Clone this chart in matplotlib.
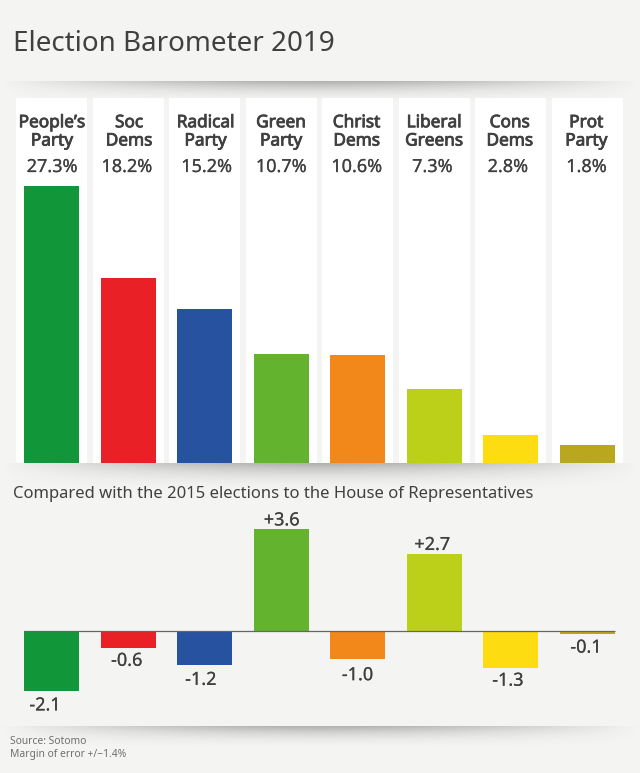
import numpy as np
import matplotlib
matplotlib.use("Agg")
import matplotlib.pyplot as plt
import matplotlib.patheffects as pe

parties = ["People’s\nParty", "Soc\nDems", "Radical\nParty", "Green\nParty",
           "Christ\nDems", "Liberal\nGreens", "Cons\nDems", "Prot\nParty"]
share = [27.3, 18.2, 15.2, 10.7, 10.6, 7.3, 2.8, 1.8]
change = [-2.1, -0.6, -1.2, 3.6, -1.0, 2.7, -1.3, -0.1]
colors = ["#12963a", "#e92026", "#27529f", "#63b32e", "#f2871a", "#bcd01a", "#fddc12", "#b9a81e"]

W, H = 640, 773
BG = "#f4f4f2"
INK = "#404040"
FONT = "Noto Sans"
plt.rcParams["font.family"] = FONT

# small label nudges in pixels
name_dx = [0.5, 1, 1, 0, -1, 0, -1, -1]
pct_dx = [0.5, -1.3, 2, 0, -1, -2, -3, -1]
chg_dx = [-6.5, -1.3, -3.8, 0.5, -0.2, -2, -3, -1.4]
chg_dy = [0, 2, 0, -1, -1, 0, 2, 1]

fig = plt.figure(figsize=(W / 100, H / 100), dpi=100, facecolor=BG)

# pixel-space backdrop
bg = fig.add_axes([0, 0, 1, 1])
bg.set_xlim(0, W)
bg.set_ylim(H, 0)
bg.axis("off")


def shadow(y0, height):
    xs = np.linspace(-1, 1, 320)
    ys = np.linspace(0, 1, 60)
    profile = np.clip(1 - np.abs(xs) ** 1.6, 0, 1)
    fall = (1 - ys) ** 2.2
    rgba = np.zeros((60, 320, 4))
    rgba[..., :3] = 0.25
    rgba[..., 3] = 0.38 * np.outer(fall, profile)
    bg.imshow(rgba, extent=[0, W, y0 + height, y0], aspect="auto", zorder=1, interpolation="bilinear")


shadow(81, 24)
shadow(463, 30)
shadow(726, 24)
bg.set_xlim(0, W)
bg.set_ylim(H, 0)

centers = np.arange(len(parties))
STEP = 76.55
X0 = 51.5
xlim = ((0 - X0) / STEP, (W - X0) / STEP)
faux_bold = [pe.withStroke(linewidth=0.6, foreground=INK)]
semi_bold = [pe.withStroke(linewidth=0.12, foreground=INK)]

# top chart
PANEL_TOP, BASE = 98, 463
top = fig.add_axes([0, 1 - BASE / H, 1, (BASE - PANEL_TOP) / H])
top.set_xlim(*xlim)
top.set_ylim(0, (BASE - PANEL_TOP) / 10.15)
top.axis("off")
top.patch.set_alpha(0)
ymax = top.get_ylim()[1]
top.bar(centers, [ymax] * len(centers), width=71 / STEP, color="white", zorder=2)
top.bar(centers, share, width=55 / STEP, color=colors, zorder=3)
for i, (name, val) in enumerate(zip(parties, share)):
    top.text(i + name_dx[i] / STEP, ymax - 1.5, name, ha="center", va="top", fontsize=12.4,
             color=INK, linespacing=1.02, zorder=4, path_effects=faux_bold)
    top.text(i + pct_dx[i] / STEP, ymax - 6.8, f"{val:.1f}%", ha="center", va="center", fontsize=13,
             color=INK, zorder=4, path_effects=semi_bold)

# bottom chart
ZERO, LOW_TOP, LOW_BOT = 631, 500, 720
SCALE = 28.4
low = fig.add_axes([0, 1 - LOW_BOT / H, 1, (LOW_BOT - LOW_TOP) / H])
low.set_xlim(*xlim)
low.set_ylim(-(LOW_BOT - ZERO) / SCALE, (ZERO - LOW_TOP) / SCALE)
low.axis("off")
low.patch.set_alpha(0)
low.bar(centers, change, width=55 / STEP, color=colors, zorder=3)
low.hlines(0, -0.36, len(centers) - 1 + 0.36, color="#666666", linewidth=0.9, zorder=4)
for i, v in enumerate(change):
    offset = 0.33 if v >= 0 else -0.52
    low.text(i + chg_dx[i] / STEP, v + offset + chg_dy[i] / SCALE, f"{v:+.1f}", ha="center", va="center",
             fontsize=13, color=INK, clip_on=False, path_effects=semi_bold)

fig.text(13 / W, 1 - 43.9 / H, "Election Barometer 2019", fontsize=20, color=INK, ha="left", va="center")
fig.text(13 / W, 1 - 494.5 / H, "Compared with the 2015 elections to the House of Representatives",
         fontsize=11.98, color=INK, ha="left", va="center")
fig.text(10.5 / W, 1 - 742 / H, "Source: Sotomo", fontsize=7.4, color="#707070", ha="left", va="center")
fig.text(10.5 / W, 1 - 755 / H, "Margin of error +/−1.4%", fontsize=7.4, color="#707070", ha="left", va="center")

fig.savefig("out.png", dpi=100, facecolor=BG)
